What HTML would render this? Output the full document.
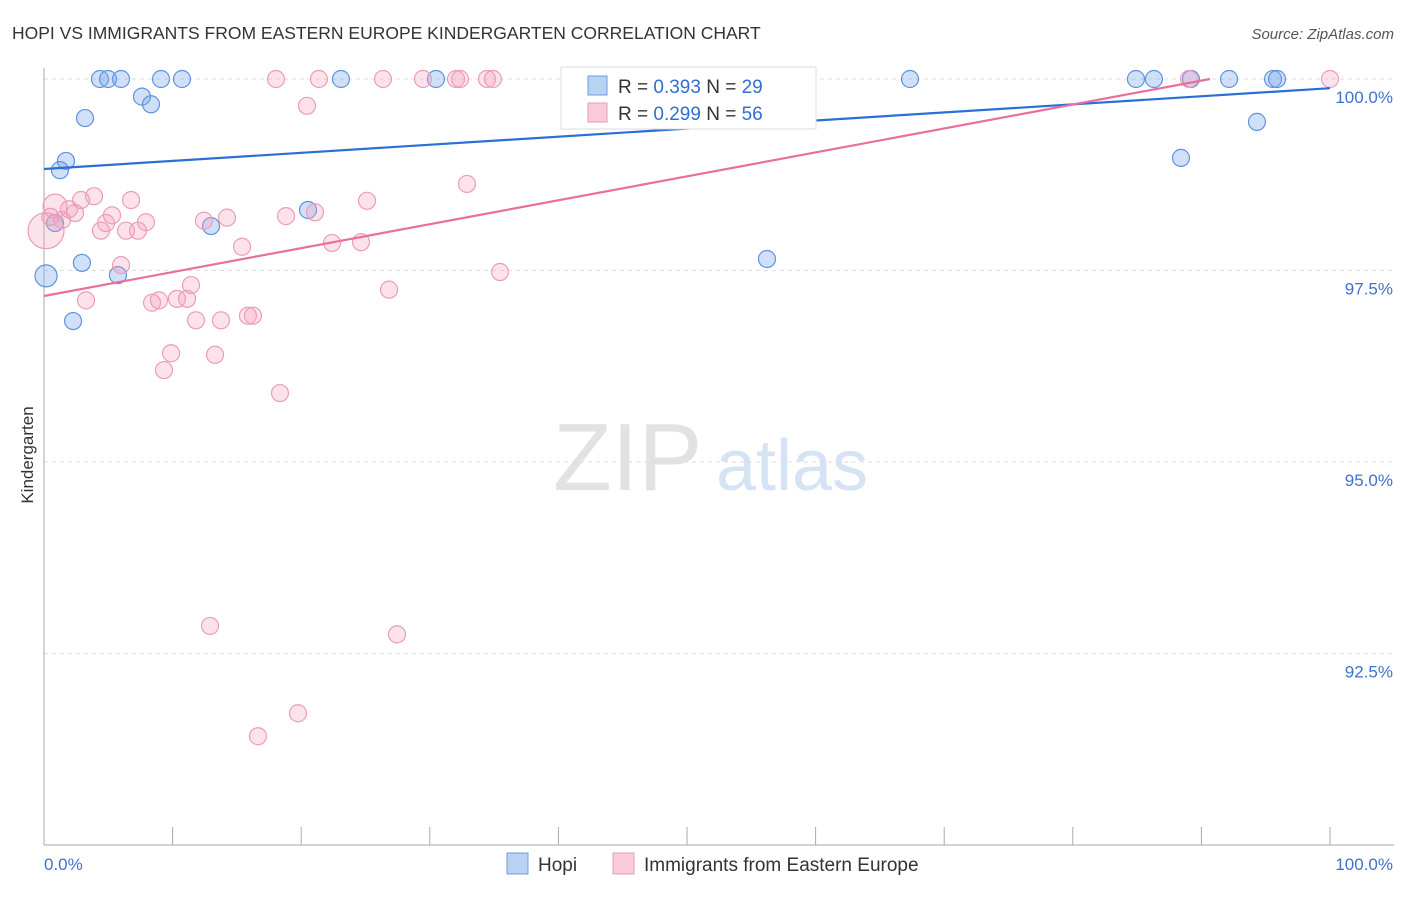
<!DOCTYPE html>
<html><head><meta charset="utf-8"><style>
body{margin:0;background:#fff;font-family:"Liberation Sans",sans-serif;}
svg text{font-family:"Liberation Sans",sans-serif;}
</style></head><body>
<svg id="chart" width="1406" height="892" viewBox="0 0 1406 892" xmlns="http://www.w3.org/2000/svg">
<text x="12" y="39" font-size="17.5" fill="#333">HOPI VS IMMIGRANTS FROM EASTERN EUROPE KINDERGARTEN CORRELATION CHART</text>
<text x="1394" y="39" font-size="15" fill="#555" font-style="italic" text-anchor="end">Source: ZipAtlas.com</text>
<g>
<text x="553" y="490" font-size="96" font-family="Liberation Serif,serif" fill="#e2e2e2">ZIP</text>
<text x="716" y="490" font-size="72" fill="#d6e3f5">atlas</text>
</g>
<g id="grid"></g>
<g id="axes"></g>
<g id="pts"></g>
<g id="lines"></g>
<g>
<rect x="561" y="67" width="255" height="62" fill="#fff" stroke="#ddd"/>
<rect x="588" y="76" width="19" height="19" fill="#b9d1f3" stroke="#6f9de0"/>
<text x="618" y="93" font-size="19" fill="#333">R = <tspan fill="#2f6fd0">0.393</tspan>   N = <tspan fill="#2f6fd0">29</tspan></text>
<rect x="588" y="103" width="19" height="19" fill="#f9cbd9" stroke="#ec9ab5"/>
<text x="618" y="120" font-size="19" fill="#333">R = <tspan fill="#2f6fd0">0.299</tspan>   N = <tspan fill="#2f6fd0">56</tspan></text>
</g>
<g>
<rect x="507" y="853" width="21" height="21" fill="#b9d1f3" stroke="#6f9de0"/>
<text x="538" y="871" font-size="19" fill="#333">Hopi</text>
<rect x="613" y="853" width="21" height="21" fill="#f9cbd9" stroke="#ec9ab5"/>
<text x="644" y="871" font-size="19" fill="#333">Immigrants from Eastern Europe</text>
</g>
<text transform="translate(33,455) rotate(-90)" font-size="17" fill="#333" text-anchor="middle">Kindergarten</text>
</svg>
<script>
const yTicks=[100,97.5,95,92.5];
const yTickLabels=["100.0%","97.5%","95.0%","92.5%"];
const xTickLabels=["0.0%","100.0%"];
const hopiX=[4.35,4.98,5.99,9.10,10.73,23.09,30.48,67.34,84.91,86.31,89.19,92.15,95.57,95.88,7.62,8.32,3.19,1.71,1.24,0.86,2.95,5.75,0.16,2.26,12.99,20.53,56.22,88.41,94.32];
const hopiY=[100,100,100,100,100,100,100,100,100,100,100,100,100,100,99.77,99.67,99.49,98.93,98.81,98.12,97.60,97.44,97.43,96.84,98.08,98.29,97.65,98.97,99.44];
const immX=[18.04,21.38,26.36,29.47,32.04,32.35,34.45,34.91,89.04,100,20.45,32.89,3.89,6.77,2.88,25.12,1.94,21.07,0.86,5.29,18.82,1.40,2.41,4.82,7.93,12.44,14.23,4.43,6.38,7.31,15.40,22.40,24.65,5.99,35.46,26.83,11.43,3.27,8.40,8.94,10.34,11.12,11.82,13.76,15.86,16.25,9.88,13.30,9.33,18.35,12.91,27.45,19.75,16.64,0.16,0.5];
const immY=[100,100,100,100,100,100,100,100,100,100,99.65,98.63,98.47,98.42,98.42,98.41,98.30,98.26,98.34,98.22,98.21,98.16,98.25,98.12,98.13,98.15,98.19,98.02,98.02,98.02,97.81,97.86,97.87,97.57,97.48,97.25,97.31,97.11,97.08,97.11,97.13,97.13,96.85,96.85,96.91,96.91,96.42,96.40,96.20,95.90,92.86,92.75,91.72,91.42,98.02,98.2];
const hopiLine=[[0,98.825],[100,99.88]];
const immLine=[[0,97.167],[90.67,100]];
const X0=44,X1=1330;
const sx=v=>X0+(X1-X0)*v/100;
const sy=v=>79+(100-v)*76.6;
const NS="http://www.w3.org/2000/svg";
function mk(t,a,p){const e=document.createElementNS(NS,t);for(const k in a)e.setAttribute(k,a[k]);p.appendChild(e);return e;}
const grid=document.getElementById('grid'),axes=document.getElementById('axes');
yTicks.forEach((t,i)=>{
 const g=mk('line',{x1:X0,x2:1394,y1:sy(t),y2:sy(t),stroke:'#ddd','stroke-dasharray':'4,4'},grid);
 
 
 const l=mk('text',{x:1393,y:sy(t)+24,'font-size':17,fill:'#3f72cc','text-anchor':'end'},axes);
 l.textContent=yTickLabels[i];
 
 
});
mk('line',{x1:X0,x2:X0,y1:68,y2:845,stroke:'#aaa'},axes);
mk('line',{x1:X0,x2:1394,y1:845,y2:845,stroke:'#aaa'},axes);
for(let i=0;i<=10;i++){mk('line',{x1:sx(i*10),x2:sx(i*10),y1:827,y2:845,stroke:'#aaa'},axes);}
const xl0=mk('text',{x:44,y:870,'font-size':17,fill:'#3f72cc'},axes);xl0.textContent=xTickLabels[0];


const xl1=mk('text',{x:1393,y:870,'font-size':17,fill:'#3f72cc','text-anchor':'end'},axes);xl1.textContent=xTickLabels[1];


const pts=document.getElementById('pts');
hopiX.forEach((x,i)=>{
 const c=mk('circle',{cx:sx(x),cy:sy(hopiY[i]),r:(i==22?11:8.5),fill:'rgba(120,165,235,0.35)',stroke:'#5f93dc','stroke-width':1.2},pts);
 
 
});
immX.forEach((x,i)=>{
 const c=mk('circle',{cx:sx(x),cy:sy(immY[i]),r:(i==54?18:(i==18?12:8.5)),fill:'rgba(245,160,190,0.3)',stroke:'#eb9db8','stroke-width':1.2},pts);
 
 
});
const lines=document.getElementById('lines');
const bl=mk('line',{x1:sx(hopiLine[0][0]),y1:sy(hopiLine[0][1]),x2:sx(hopiLine[1][0]),y2:sy(hopiLine[1][1]),stroke:'#2a6fd6','stroke-width':2.2},lines);


const pl=mk('line',{x1:sx(immLine[0][0]),y1:sy(immLine[0][1]),x2:sx(immLine[1][0]),y2:sy(immLine[1][1]),stroke:'#e8709a','stroke-width':2.2},lines);


</script>
</body></html>
